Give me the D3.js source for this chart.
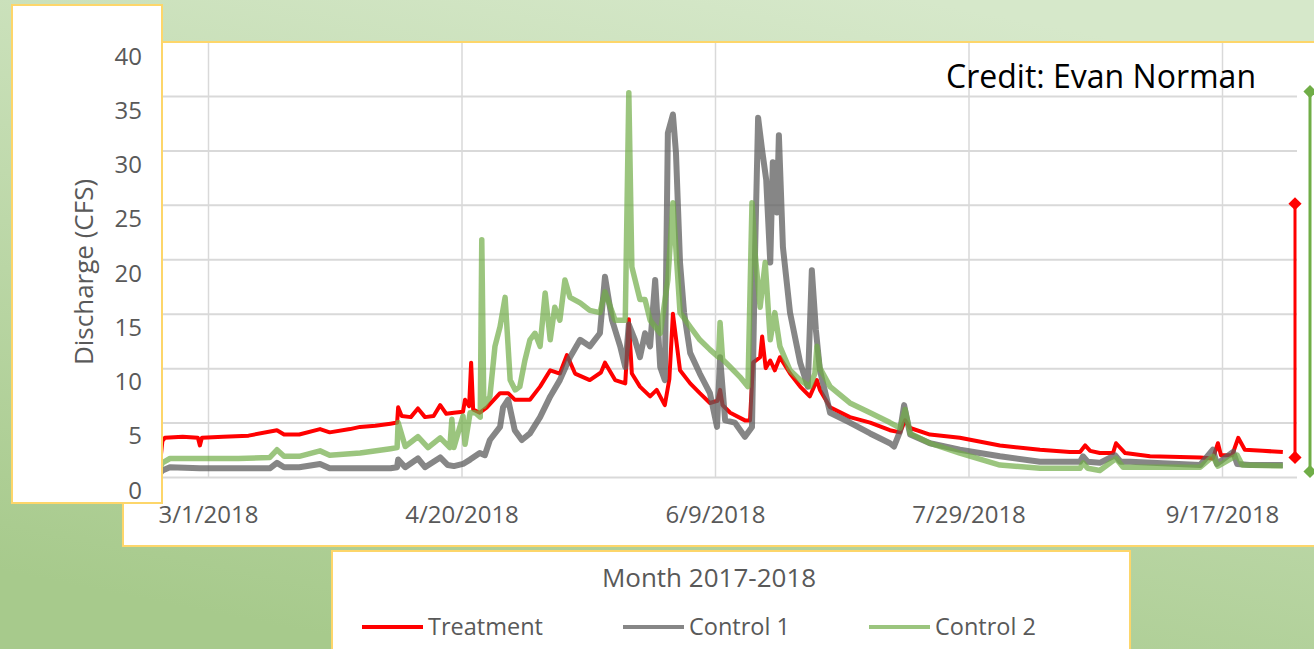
<!DOCTYPE html>
<html>
<head>
<meta charset="utf-8">
<script src="https://cdn.jsdelivr.net/npm/d3@7"></script>
<style>
  html, body { margin: 0; padding: 0; background: #fff; }
  svg { display: block; font-family: "Open Sans", sans-serif; }
</style>
</head>
<body>
<svg id="chart" width="1314" height="649"></svg>
<script>
// day offsets are days after 3/1/2018, values in CFS
const treatment = [
  [-9.4, 1.5], [-9.0, 3.3], [-8.5, 3.6], [-5, 3.7], [-2.0, 3.6], [-1.6, 2.9], [-1.2, 3.6], [3, 3.7],
  [8, 3.8], [13.6, 4.3], [15, 3.9], [18, 3.9], [22.1, 4.4], [24, 4.1], [28, 4.4], [30, 4.6],
  [33, 4.7], [36, 4.9], [37.3, 5.0], [37.5, 6.4], [38.2, 5.6], [40, 5.5], [41.4, 6.3], [42.8, 5.5],
  [44.5, 5.6], [45.8, 6.6], [47, 5.8], [48.5, 5.9], [50.3, 6.0], [50.7, 7.1], [51.5, 6.5], [51.9, 10.5],
  [52.3, 6.2], [53.6, 5.9], [55, 6.4], [57.6, 7.7], [59.2, 7.7], [60.5, 7.1], [63.5, 7.1], [65.5, 8.3],
  [67.5, 9.8], [69.4, 9.5], [70.8, 11.2], [72.4, 9.5], [75.3, 8.9], [77.5, 9.6], [78.3, 10.5], [80.3, 8.9],
  [82.3, 8.6], [83.0, 14.5], [83.6, 9.5], [85.2, 8.3], [87.2, 7.4], [88.5, 8.0], [90.1, 6.6], [91.0, 9.0],
  [91.7, 15.0], [93.1, 9.8], [95.1, 8.6], [97.0, 7.7], [99.0, 6.8], [100.5, 7.0], [101.0, 8.0], [101.5, 6.6],
  [103.0, 5.9], [105.9, 5.2], [106.9, 5.2], [107.5, 10.5], [108.9, 11.0], [109.3, 12.9], [110.0, 10.0], [110.9, 10.7],
  [111.8, 9.8], [112.8, 11.0], [114.8, 9.5], [116.8, 8.3], [118.7, 7.4], [120.1, 8.9], [120.7, 8.0], [122.7, 6.4],
  [126.6, 5.5], [130.6, 5.0], [134.5, 4.3], [136.5, 4.1], [137.5, 5.2], [138.5, 4.5], [142.4, 3.9], [148.3, 3.6],
  [156.2, 2.9], [164.1, 2.5], [170.0, 2.3], [172.0, 2.3], [173.0, 2.9], [174.0, 2.4], [175.9, 2.2], [178.5, 2.2],
  [179.1, 3.1], [180.9, 2.2], [185.8, 1.9], [195.7, 1.8], [198.2, 1.7], [199.2, 3.1], [199.8, 2.0], [202.0, 2.0],
  [203.2, 3.6], [204.5, 2.5], [208, 2.4], [212.0, 2.3]
];
const control1 = [
  [-9.5, 0.3], [-9.0, 0.6], [-7.5, 0.9], [-1.6, 0.8], [6, 0.8], [12.2, 0.8], [13.6, 1.3], [15, 0.9],
  [18, 0.9], [22.1, 1.2], [24, 0.8], [30, 0.8], [36, 0.8], [37.3, 0.9], [37.5, 1.6], [38.9, 0.9],
  [41.4, 1.7], [42.8, 0.9], [45.8, 1.8], [47.3, 1.1], [48.5, 1.0], [50.3, 1.2], [51.7, 1.6], [53.6, 2.2],
  [54.6, 2.0], [55.6, 3.4], [57.6, 4.6], [58.2, 6.4], [59.2, 7.1], [60.5, 4.3], [61.9, 3.4], [63.5, 4.0],
  [65.5, 5.5], [67.5, 7.4], [69.4, 8.9], [71.4, 11.0], [73.4, 12.6], [75.3, 12.0], [77.3, 13.2], [78.3, 18.4],
  [79.7, 14.4], [81.3, 12.0], [82.3, 10.1], [83.0, 14.0], [84.2, 12.6], [85.2, 11.0], [86.2, 13.2], [87.2, 12.0],
  [88.2, 18.1], [89.2, 10.1], [90.1, 8.9], [90.7, 31.6], [91.7, 33.3], [92.3, 29.8], [93.1, 19.7], [93.9, 15.1],
  [95.1, 11.4], [97.0, 9.5], [99.0, 7.7], [100.4, 4.6], [101.0, 11.0], [102.0, 5.2], [103.9, 5.0], [105.9, 3.7],
  [107.3, 4.6], [107.9, 20.6], [108.5, 33.0], [109.3, 30.0], [110.1, 27.3], [110.9, 19.7], [111.4, 28.9], [112.2, 24.3],
  [112.6, 31.4], [113.4, 21.1], [114.8, 15.1], [116.8, 10.5], [118.3, 8.3], [119.1, 19.0], [119.9, 13.5], [120.7, 9.8],
  [122.7, 5.9], [126.6, 5.0], [130.6, 4.0], [134.5, 3.1], [135.3, 2.8], [136.5, 4.2], [137.3, 6.6], [138.5, 3.9],
  [142.4, 3.1], [148.3, 2.5], [156.2, 1.9], [164.1, 1.4], [172.0, 1.4], [172.6, 1.9], [173.5, 1.4], [175.9, 1.3],
  [178.9, 2.0], [180, 1.4], [181.9, 1.4], [195.7, 1.1], [198.2, 2.5], [199.0, 1.2], [202.2, 2.3], [203, 1.2],
  [205.5, 1.1], [212.0, 1.1]
];
const control2 = [
  [-9.5, 0.8], [-9.0, 1.3], [-7.5, 1.7], [6, 1.7], [12.2, 1.8], [13.6, 2.5], [15, 1.9], [18, 1.9],
  [22.1, 2.4], [24, 2.0], [30, 2.2], [36, 2.6], [37.3, 2.7], [37.5, 5.0], [38.9, 2.8], [41.4, 3.7],
  [43.4, 2.7], [45.8, 3.6], [47.7, 2.7], [48.1, 5.3], [48.5, 2.7], [50.3, 5.6], [50.7, 3.0], [51.7, 5.9],
  [52.7, 5.9], [53.7, 5.5], [54.0, 21.8], [54.4, 6.5], [55.6, 7.4], [56.6, 12.0], [57.6, 13.8], [58.6, 16.5],
  [59.6, 8.9], [60.6, 8.0], [61.5, 8.3], [62.5, 10.7], [63.5, 12.6], [64.5, 13.2], [65.5, 12.0], [66.5, 16.9],
  [67.5, 12.6], [68.4, 15.6], [69.4, 14.4], [70.4, 18.1], [71.4, 16.5], [73.4, 16.0], [75.3, 15.3], [77.3, 15.1],
  [78.3, 17.0], [80.3, 14.4], [82.3, 14.4], [83.0, 35.3], [83.6, 19.3], [85.2, 16.3], [86.2, 16.3], [87.2, 14.4],
  [89.2, 13.2], [90.7, 18.1], [91.7, 25.2], [93.1, 15.1], [95.1, 13.8], [97.0, 12.6], [99.0, 11.7], [100.7, 11.0],
  [101.0, 14.2], [101.5, 10.8], [103.0, 10.1], [104.9, 9.2], [106.5, 8.3], [107.3, 25.2], [107.9, 20.6], [108.9, 15.6],
  [109.9, 19.7], [110.9, 12.6], [111.8, 15.1], [112.8, 12.0], [114.8, 9.8], [116.8, 8.9], [118.7, 8.3], [119.7, 9.5],
  [120.1, 12.0], [120.7, 10.0], [122.7, 8.3], [126.6, 6.8], [130.6, 5.9], [134.5, 5.0], [136.5, 4.5], [137.5, 6.2],
  [138.5, 4.0], [142.4, 3.1], [148.3, 2.2], [156.2, 1.1], [164.1, 0.8], [172.0, 0.8], [172.6, 1.3], [173.5, 0.8],
  [175.9, 0.6], [179.1, 1.7], [180.5, 0.9], [195.7, 0.9], [198.2, 1.9], [199.2, 1.0], [203.0, 2.0], [204.0, 1.1],
  [212.0, 1.0]
];

const seriesNames = ["Treatment", "Control 1", "Control 2"];
const seriesColors = ["#ff0000", "#5e5e5e", "#70ad47"];
const xTickDates = ["2018-03-01", "2018-04-20", "2018-06-09", "2018-07-29", "2018-09-17"];
const yTicks = [0, 5, 10, 15, 20, 25, 30, 35, 40];
// range brackets at the right edge (CFS)
const treatmentRange = [1.8, 25.1];
const control2Range = [0.5, 35.4];

const svg = d3.select("#chart");
const parse = d3.timeParse("%Y-%m-%d");
const base = parse("2018-03-01");
const toDate = d => new Date(base.getTime() + d * 864e5);

const plotTop = 42, plotBottom = 477, plotLeft = 130, plotRight = 1297;
const x = d3.scaleTime().domain([parse(xTickDates[0]), parse(xTickDates[4])]).range([208, 1222]);
const y = d3.scaleLinear().domain([0, 40]).range([plotBottom, 41.5]);
// the label strip on the left sits a little lower than the plot
const yLabel = d3.scaleLinear().domain([0, 40]).range([490.5, 56.5]);

// background
const defs = svg.append("defs");
const grad = defs.append("linearGradient").attr("id", "bg")
    .attr("x1", 0.7).attr("y1", 0).attr("x2", 0.3).attr("y2", 1);
grad.append("stop").attr("offset", 0).attr("stop-color", "#d6e8ca");
grad.append("stop").attr("offset", 1).attr("stop-color", "#a7ca8c");
svg.append("rect").attr("width", 1314).attr("height", 649).attr("fill", "url(#bg)");

const border = "#fdd66a";

// main chart panel
svg.append("rect").attr("x", 123).attr("y", 42).attr("width", 1250).attr("height", 504)
    .attr("fill", "#fff").attr("stroke", border).attr("stroke-width", 2);

// horizontal gridlines
svg.append("g").attr("class", "grid-y")
    .attr("transform", `translate(${plotLeft},0)`)
    .call(d3.axisLeft(y).tickValues(yTicks.filter(v => v < 40)).tickSize(-(plotRight - plotLeft)).tickFormat(""))
    .call(g => g.select(".domain").remove())
    .call(g => g.selectAll("line").attr("stroke", "#d9d9d9").attr("stroke-width", 2));

// vertical gridlines + date labels
svg.append("g").attr("class", "axis-x")
    .attr("transform", `translate(0,${plotBottom})`)
    .call(d3.axisBottom(x).tickValues(xTickDates.map(parse)).tickSize(-(plotBottom - plotTop - 1))
        .tickPadding(29).tickFormat(d3.timeFormat("%-m/%-d/%Y")))
    .call(g => g.select(".domain").remove())
    .call(g => g.selectAll("line").attr("stroke", "#d9d9d9").attr("stroke-width", 1.5))
    .call(g => g.selectAll("text").attr("font-size", 24).attr("fill", "#595959")
        .attr("font-family", "Open Sans, sans-serif"));

// series
const line = d3.line().x(d => x(toDate(d[0]))).y(d => y(d[1]));
const series = [
    { data: treatment, width: 4, opacity: 1 },
    { data: control1, width: 6, opacity: 0.75 },
    { data: control2, width: 5.5, opacity: 0.7 }
];
series.forEach((s, i) => {
    svg.append("path")
        .attr("d", line(s.data))
        .attr("fill", "none")
        .attr("stroke", seriesColors[i])
        .attr("stroke-width", s.width)
        .attr("stroke-opacity", s.opacity)
        .attr("stroke-linejoin", "round");
});

// credit
svg.append("text").attr("x", 1256).attr("y", 88).attr("text-anchor", "end")
    .attr("font-size", 32).attr("fill", "#000").text("Credit: Evan Norman");

// range brackets
function bracket(range, xPos, color, size) {
    const g = svg.append("g");
    g.append("line").attr("x1", xPos).attr("x2", xPos)
        .attr("y1", y(range[0])).attr("y2", y(range[1]))
        .attr("stroke", color).attr("stroke-width", 3);
    range.forEach(v => {
        g.append("path")
            .attr("d", d3.symbol(d3.symbolDiamond2, size)())
            .attr("transform", `translate(${xPos},${y(v)})`)
            .attr("fill", color);
    });
}
bracket(control2Range, 1310, "#70ad47", 110);
bracket(treatmentRange, 1295, "#ff0000", 110);

// left label strip
svg.append("rect").attr("x", 12).attr("y", 5).attr("width", 150).attr("height", 498)
    .attr("fill", "#fff").attr("stroke", border).attr("stroke-width", 2);

svg.append("g").attr("class", "axis-y")
    .attr("transform", "translate(142,0)")
    .call(d3.axisLeft(yLabel).tickValues(yTicks).tickSize(0).tickPadding(0))
    .call(g => g.select(".domain").remove())
    .call(g => g.selectAll("text").attr("font-size", 24).attr("fill", "#595959")
        .attr("font-family", "Open Sans, sans-serif"));

svg.append("text").attr("transform", "translate(93,272) rotate(-90)")
    .attr("text-anchor", "middle").attr("font-size", 26).attr("fill", "#595959")
    .text("Discharge (CFS)");

// legend panel
svg.append("rect").attr("x", 332).attr("y", 551).attr("width", 798).attr("height", 120)
    .attr("fill", "#fff").attr("stroke", border).attr("stroke-width", 2);

svg.append("text").attr("x", 709).attr("y", 578).attr("dy", "0.35em").attr("text-anchor", "middle")
    .attr("font-size", 26).attr("fill", "#595959").text("Month 2017-2018");

const legendX = [362, 623, 869];
seriesNames.forEach((name, i) => {
    const g = svg.append("g").attr("transform", `translate(${legendX[i]},627)`);
    g.append("line").attr("x1", 0).attr("x2", 61).attr("stroke", seriesColors[i])
        .attr("stroke-width", 4).attr("stroke-opacity", series[i].opacity);
    g.append("text").attr("x", 66).attr("dy", "0.35em").attr("font-size", 23.5)
        .attr("fill", "#595959").text(name);
});
</script>
</body>
</html>
